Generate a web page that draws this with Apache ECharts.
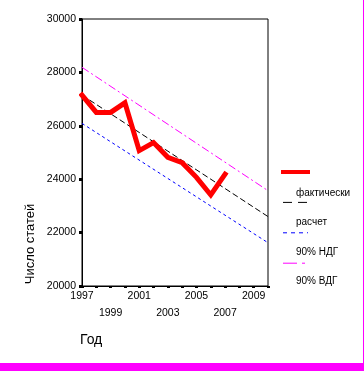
<!DOCTYPE html>
<html>
<head>
<meta charset="utf-8">
<script src="https://cdn.jsdelivr.net/npm/echarts@6/dist/echarts.min.js"></script>
<style>
  html, body { margin: 0; padding: 0; background: #fff; }
  #wrap { width: 363px; height: 363px; border-right: 1px solid #ff00ff; border-bottom: 8px solid #ff00ff; }
  #chart { width: 363px; height: 363px; }
</style>
</head>
<body>
<div id="wrap"><div id="chart"></div></div>
<script>
const seriesNames = ['фактически', 'расчет', '90% НДГ', '90% ВДГ'];
const actualYears = [1997, 1998, 1999, 2000, 2001, 2002, 2003, 2004, 2005, 2006, 2007];
const actualValues = [27150, 26500, 26500, 26860, 25070, 25370, 24820, 24620, 24070, 23410, 24190];
const fitYears = [1997, 2010];
const forecastValues = [27150, 22600];
const lowerValues = [26090, 21620];
const upperValues = [28190, 23570];
const yTicks = [20000, 22000, 24000, 26000, 28000, 30000];
const xLabelYears = [1997, 1999, 2001, 2003, 2005, 2007, 2009];

const pairs = (xs, ys) => xs.map((x, i) => [x, ys[i]]);
const font = 'Liberation Sans, Arial, sans-serif';
const legendLineStyles = [
  { width: 4, type: 'solid' },
  { width: 1, type: [9, 6] },
  { width: 1, type: [4, 4] },
  { width: 1, type: [14, 5, 3, 10] }
];

const chart = echarts.init(document.getElementById('chart'), null, { renderer: 'canvas' });
chart.setOption({
  animation: false,
  backgroundColor: '#fff',
  grid: { left: 82, right: 95, top: 19, bottom: 77, show: true, borderColor: '#000', borderWidth: 1 },
  xAxis: {
    type: 'value', min: 1997, max: 2010, interval: 1,
    axisLine: { lineStyle: { color: '#000', width: 1 } },
    axisTick: { length: 2, lineStyle: { color: '#000', width: 3 } },
    splitLine: { show: false },
    axisLabel: {
      color: '#000', fontFamily: font, fontSize: 10.5, lineHeight: 17, margin: 2,
      formatter: function (v) {
        const idx = xLabelYears.indexOf(v);
        if (idx < 0) return '';
        return idx % 2 === 0 ? String(v) : '\n' + v;
      }
    }
  },
  yAxis: {
    type: 'value', min: yTicks[0], max: yTicks[yTicks.length - 1], interval: 2000,
    axisLine: { show: true, lineStyle: { color: '#000', width: 1 } },
    axisTick: { show: true, length: 3, lineStyle: { color: '#000', width: 3 } },
    splitLine: { show: false },
    axisLabel: { color: '#000', fontFamily: font, fontSize: 10.5, margin: 6, formatter: function (v) { return String(v); } }
  },
  legend: [
    {
      orient: 'vertical', left: 276, top: 160, itemWidth: 25, itemHeight: 14, itemGap: 17.8,
      data: seriesNames.map((n, i) => ({ name: n, lineStyle: legendLineStyles[i] })),
      formatter: function () { return ''; },
      itemStyle: { opacity: 0 },
      textStyle: { fontSize: 10, fontFamily: font }
    },
    {
      orient: 'vertical', left: 286, top: 182, itemWidth: 0, itemHeight: 12, itemGap: 17.4,
      data: seriesNames.map(n => ({ name: n, icon: 'none' })),
      textStyle: { fontSize: 10, fontFamily: font, color: '#000', lineHeight: 12 }
    }
  ],
  series: [
    {
      name: seriesNames[0], type: 'line', data: pairs(actualYears, actualValues),
      symbol: 'none', lineStyle: { color: '#ff0000', width: 5, cap: 'square', join: 'miter' },
      itemStyle: { color: '#ff0000' }, z: 5
    },
    {
      name: seriesNames[1], type: 'line', data: pairs(fitYears, forecastValues),
      symbol: 'none', lineStyle: { color: '#000', width: 1, type: [6, 3] }, itemStyle: { color: '#000' }
    },
    {
      name: seriesNames[2], type: 'line', data: pairs(fitYears, lowerValues),
      symbol: 'none', lineStyle: { color: '#0000ff', width: 1, type: [3, 3] }, itemStyle: { color: '#0000ff' }
    },
    {
      name: seriesNames[3], type: 'line', data: pairs(fitYears, upperValues),
      symbol: 'none', lineStyle: { color: '#ff00ff', width: 1, type: [8, 3, 2, 3] }, itemStyle: { color: '#ff00ff' }
    }
  ],
  graphic: [
    {
      type: 'text', x: 30, y: 244, rotation: Math.PI / 2,
      style: { text: 'Число статей', font: '13px ' + font, fill: '#000', align: 'center', verticalAlign: 'middle' }
    },
    {
      type: 'text', x: 80, y: 340,
      style: { text: 'Год', font: '14px ' + font, fill: '#000', align: 'left', verticalAlign: 'middle' }
    }
  ]
});
</script>
</body>
</html>
